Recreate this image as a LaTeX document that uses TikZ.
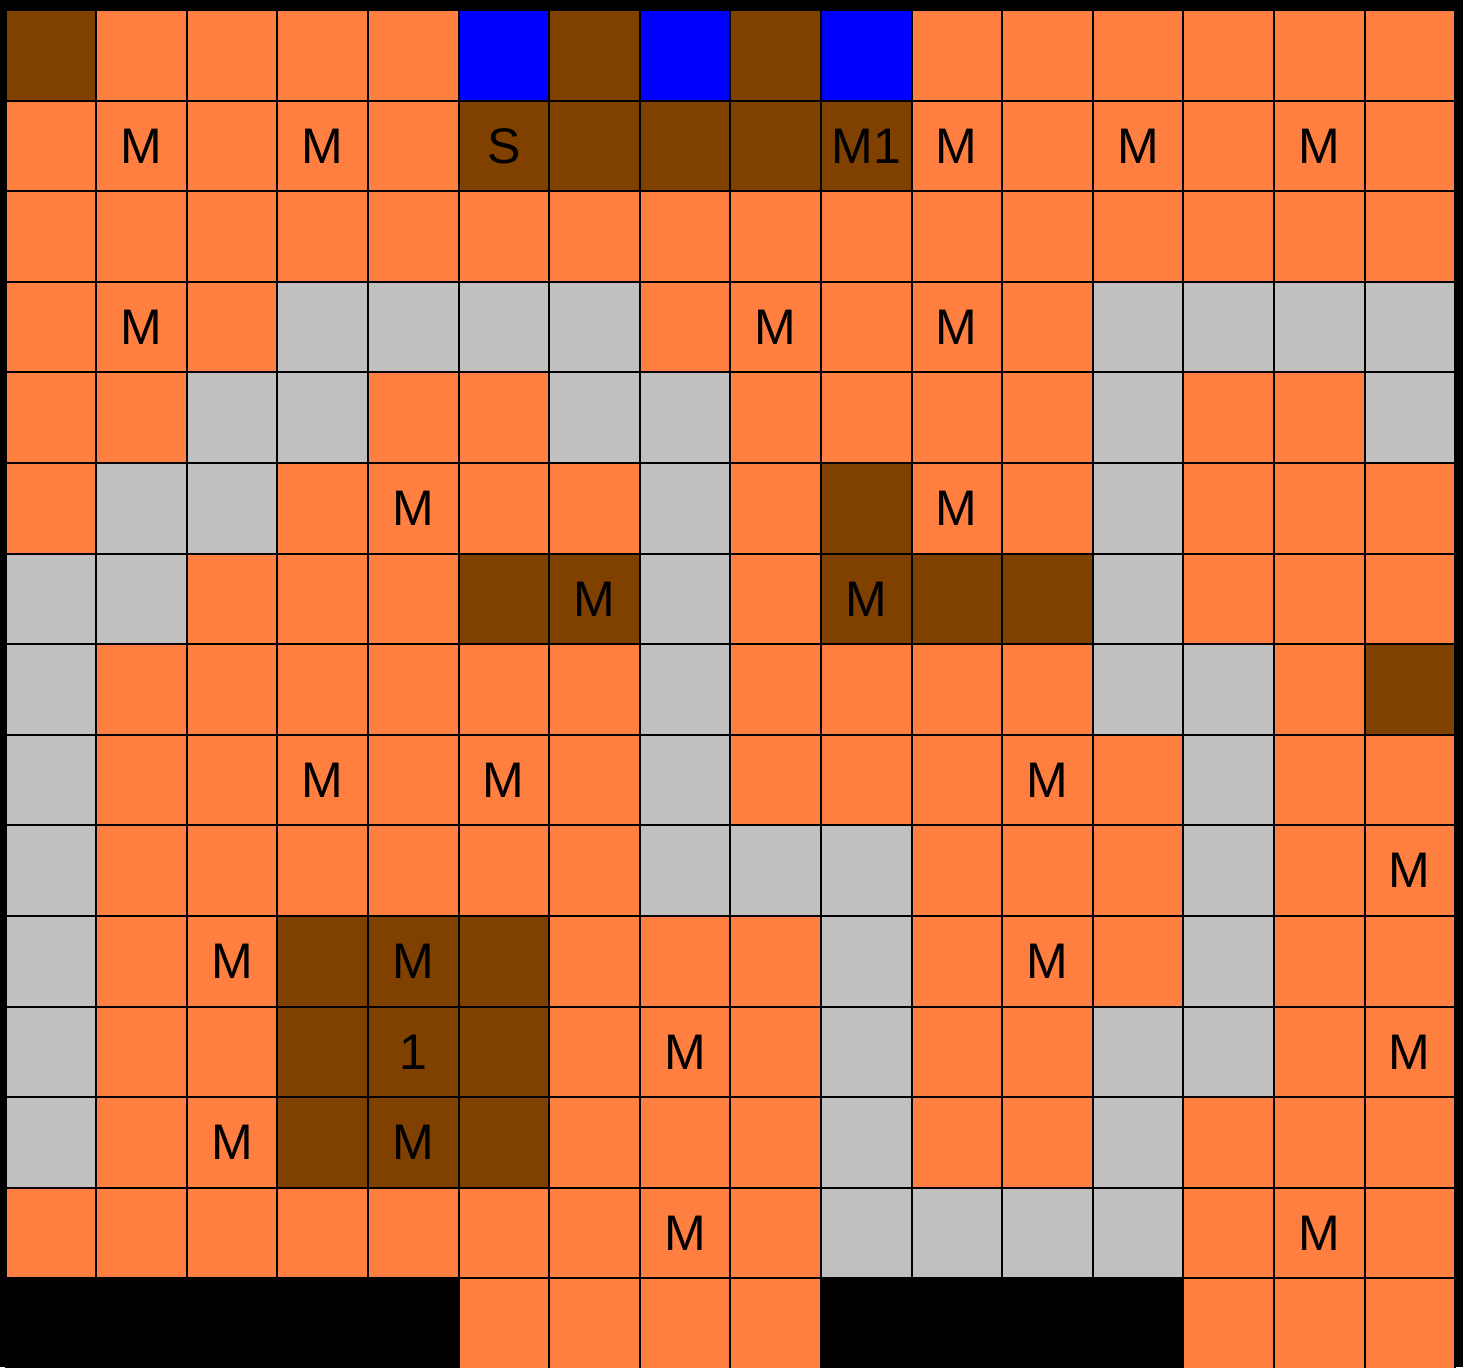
\documentclass[tikz,border=0pt]{standalone}
\usepackage{fontspec}
\setmainfont{Liberation Sans}
\definecolor{cO}{HTML}{FF7F40}
\definecolor{cB}{HTML}{804000}
\definecolor{cU}{HTML}{0000FF}
\definecolor{cG}{HTML}{C0C0C0}
\definecolor{cK}{HTML}{000000}
\begin{document}
\begin{tikzpicture}[x=1pt,y=-1pt,
  cell/.style={draw=black, line width=2pt, minimum size=90.6pt, inner sep=0pt, outer sep=0pt},
  lbl/.style={inner sep=0pt, text=black, font=\fontsize{50}{60}\selectfont}]
\useasboundingbox (0,0) rectangle (1463,1367);
\clip (0,0) rectangle (1463,1367);
\fill[black] (0,0) rectangle (1463,1367);
\foreach \r/\row in {
 0/{B,O,O,O,O,U,B,U,B,U,O,O,O,O,O,O},
 1/{O,O,O,O,O,B,B,B,B,B,O,O,O,O,O,O},
 2/{O,O,O,O,O,O,O,O,O,O,O,O,O,O,O,O},
 3/{O,O,O,G,G,G,G,O,O,O,O,O,G,G,G,G},
 4/{O,O,G,G,O,O,G,G,O,O,O,O,G,O,O,G},
 5/{O,G,G,O,O,O,O,G,O,B,O,O,G,O,O,O},
 6/{G,G,O,O,O,B,B,G,O,B,B,B,G,O,O,O},
 7/{G,O,O,O,O,O,O,G,O,O,O,O,G,G,O,B},
 8/{G,O,O,O,O,O,O,G,O,O,O,O,O,G,O,O},
 9/{G,O,O,O,O,O,O,G,G,G,O,O,O,G,O,O},
 10/{G,O,O,B,B,B,O,O,O,G,O,O,O,G,O,O},
 11/{G,O,O,B,B,B,O,O,O,G,O,O,G,G,O,O},
 12/{G,O,O,B,B,B,O,O,O,G,O,O,G,O,O,O},
 13/{O,O,O,O,O,O,O,O,O,G,G,G,G,O,O,O},
 14/{K,K,K,K,K,O,O,O,O,K,K,K,K,O,O,O}}{
  \foreach \k [count=\c from 0] in \row {
    \node[cell, fill=c\k] (c-\r-\c) at ({5.5+90.6*(\c+0.5)},{10+90.6*(\r+0.5)}) {};
  }
}
\foreach \r/\c/\t in {1/1/M,1/3/M,1/5/S,1/9/M1,1/10/M,1/12/M,1/14/M,
  3/1/M,3/8/M,3/10/M, 5/4/M,5/10/M, 6/6/M,6/9/M,
  8/3/M,8/5/M,8/11/M, 9/15/M, 10/2/M,10/4/M,10/11/M,
  11/4/1,11/7/M,11/15/M, 12/2/M,12/4/M, 13/7/M,13/14/M}{
  \node[lbl] (t-\r-\c) at (c-\r-\c) {\t};
}
\end{tikzpicture}
\end{document}
